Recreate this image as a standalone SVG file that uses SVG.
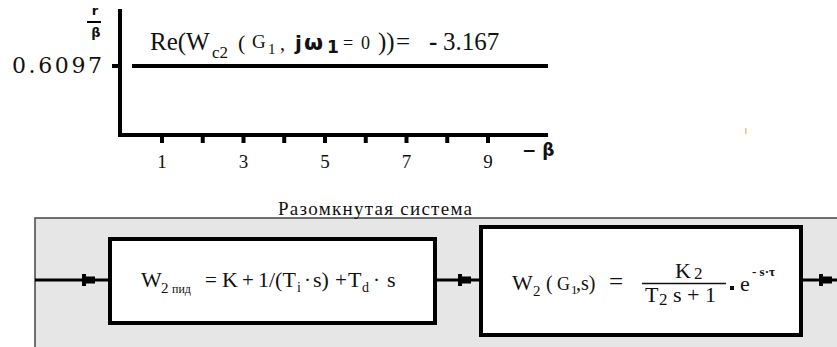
<svg xmlns="http://www.w3.org/2000/svg" width="837" height="347" viewBox="0 0 837 347">
<style>
.ser{font-family:"Liberation Serif","Times New Roman",serif;fill:#111}
.bs{font-family:"DejaVu Sans","Liberation Sans",sans-serif;font-weight:bold;fill:#111}
.ax{stroke:#000;stroke-width:4;fill:none}
.blk{fill:#fff;stroke:#000;stroke-width:4}
.con{stroke:#000;stroke-width:3;fill:none}
</style>
<defs>
<path id="ah" d="M0,-6 h4 v2.5 h9 v7 h-9 v2.5 h-4 z" fill="#000"/>
</defs>
<g id="chart">
<line class="ax" x1="120" y1="9" x2="120" y2="137"/>
<line class="ax" x1="118" y1="135" x2="548" y2="135"/>
<line class="ax" x1="112" y1="66" x2="120" y2="66"/>
<line class="ax" x1="132" y1="66" x2="548" y2="66"/>
<g stroke="#000" stroke-width="4">
<line x1="162" y1="135" x2="162" y2="143"/>
<line x1="202.75" y1="135" x2="202.75" y2="143"/>
<line x1="243.5" y1="135" x2="243.5" y2="143"/>
<line x1="284.25" y1="135" x2="284.25" y2="143"/>
<line x1="325" y1="135" x2="325" y2="143"/>
<line x1="365.75" y1="135" x2="365.75" y2="143"/>
<line x1="406.5" y1="135" x2="406.5" y2="143"/>
<line x1="447.25" y1="135" x2="447.25" y2="143"/>
<line x1="488" y1="135" x2="488" y2="143"/>
</g>
<g class="ser" font-size="19" text-anchor="middle">
<text x="162" y="168">1</text>
<text x="243.5" y="168">3</text>
<text x="325" y="168">5</text>
<text x="406.5" y="168">7</text>
<text x="488" y="168">9</text>
</g>
<text class="bs" x="522" y="156" font-size="17">− β</text>
<text class="bs" x="95" y="15" font-size="13" text-anchor="middle">r</text>
<line x1="87" y1="22" x2="101" y2="22" stroke="#000" stroke-width="2"/>
<text class="bs" x="96" y="37" font-size="13" text-anchor="middle">β</text>
<text x="12" y="73" font-family="DejaVu Serif,serif" font-size="22" fill="#111" textLength="90" lengthAdjust="spacing">0.6097</text>
<g id="relabel">
<text class="ser" x="150" y="50" font-size="25">Re(W</text>
<text class="ser" x="212" y="58" font-size="17">c2</text>
<text class="ser" x="238" y="50" font-size="22">(</text>
<text class="ser" x="252" y="48" font-size="19">G</text>
<text class="ser" x="268" y="54" font-size="15">1</text>
<text class="ser" x="280" y="50" font-size="20">,</text>
<text class="bs" x="295" y="50" font-size="20">j</text>
<text class="bs" x="304" y="50" font-size="22">ω</text>
<text class="bs" x="327" y="53" font-size="17">1</text>
<text class="ser" x="343" y="49" font-size="18">=</text>
<text class="ser" x="361" y="49" font-size="18">0</text>
<text class="ser" x="378" y="50" font-size="25">))</text>
<text class="ser" x="396" y="50" font-size="25">=</text>
<text class="ser" x="429" y="50" font-size="25" font-weight="bold">-</text>
<text class="ser" x="443" y="50" font-size="25">3.167</text>
</g>
</g>
<rect x="745" y="128" width="1.5" height="6" fill="#f5c27a"/>
<g id="system">
<rect x="35" y="218" width="820" height="140" fill="#e6e6e6" stroke="#444" stroke-width="1.5"/>
<text class="ser" x="278" y="215" font-size="19" textLength="194" lengthAdjust="spacing">Разомкнутая система</text>
</g>
<g id="connectors">
<line class="con" x1="35" y1="280" x2="110" y2="280"/>
<use href="#ah" x="82" y="280"/>
<line class="con" x1="435" y1="280" x2="481" y2="280"/>
<use href="#ah" x="458" y="280"/>
<line class="con" x1="801" y1="280" x2="837" y2="280"/>
<use href="#ah" x="819" y="280"/>
</g>
<g id="pid">
<rect class="blk" x="110" y="239" width="325" height="84"/>
<text class="ser" x="141" y="287" font-size="22">W</text>
<text class="ser" x="161" y="293" font-size="15">2</text>
<text class="ser" x="172" y="293" font-size="12">пид</text>
<text class="ser" x="205" y="287" font-size="21">=</text>
<text class="ser" x="222" y="287" font-size="22">K</text>
<text class="ser" x="242" y="287" font-size="21">+</text>
<text class="ser" x="258" y="287" font-size="22">1/(T</text>
<text class="ser" x="297" y="292" font-size="14">i</text>
<text class="ser" x="304" y="287" font-size="21">·</text>
<text class="ser" x="313" y="287" font-size="22">s)</text>
<text class="ser" x="335" y="287" font-size="21">+</text>
<text class="ser" x="348" y="287" font-size="22">T</text>
<text class="ser" x="362" y="292" font-size="14">d</text>
<text class="ser" x="373" y="287" font-size="21">·</text>
<text class="ser" x="387" y="287" font-size="22">s</text>
</g>
<g id="plant">
<rect class="blk" x="481" y="227" width="320" height="108"/>
<text class="ser" x="512" y="290" font-size="22">W</text>
<text class="ser" x="533" y="296" font-size="15">2</text>
<text class="ser" x="546" y="290" font-size="20">(</text>
<text class="ser" x="557" y="290" font-size="18">G</text>
<text class="ser" x="571" y="294" font-size="13">1</text>
<text class="ser" x="576" y="290" font-size="20">,s)</text>
<text class="ser" x="609" y="290" font-size="25">=</text>
<text class="ser" x="675" y="278" font-size="22">K</text>
<text class="ser" x="694" y="279" font-size="17">2</text>
<line x1="642" y1="283.5" x2="726" y2="283.5" stroke="#111" stroke-width="1.5"/>
<text class="ser" x="645" y="302" font-size="22">T</text>
<text class="ser" x="659" y="305" font-size="17">2</text>
<text class="ser" x="673" y="302" font-size="22">s + 1</text>
<rect x="730" y="286" width="4" height="4" fill="#111"/>
<text class="ser" x="740" y="291" font-size="22">e</text>
<text class="ser" x="752" y="276" font-size="13" font-weight="bold">- s·τ</text>
</g>
</svg>
